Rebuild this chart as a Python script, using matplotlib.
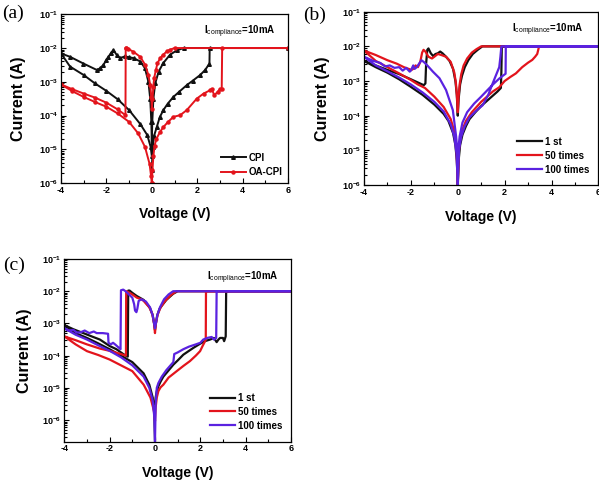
import numpy as np
import matplotlib.pyplot as plt
from matplotlib.ticker import FixedLocator, FuncFormatter, LogLocator, NullFormatter

plt.rcParams['font.family'] = ['Liberation Sans', 'DejaVu Sans']
plt.rcParams['mathtext.fontset'] = 'custom'
plt.rcParams['mathtext.rm'] = 'Liberation Sans'
plt.rcParams['mathtext.bf'] = 'Liberation Sans:bold'

BLACK = '#111111'
RED = '#e3141c'
BLUE = '#5a22e0'

# ---- data: voltage sweeps (V) and log10 of current (A) ----
# (a) CPI
a_cpi_v = [0, 0.04, 0.1, 0.22, 0.35, 0.51, 0.7, 0.95, 1.2, 1.54, 1.8, 2.13, 2.35, 2.54, 2.55, 6.0,
           1.4, 1.1, 0.8, 0.5, 0.3, 0.15, 0.07, 0.02, 0.0,
           -0.02, -0.07, -0.15, -0.3, -0.5, -0.8, -1.0, -1.2, -1.4, -1.55, -1.69, -1.8, -1.91, -2.01,
           -2.13, -2.28, -2.42, -3.01, -3.6, -4.0,
           -3.6, -3.0, -2.5, -2.0, -1.5, -1.0, -0.5, -0.2, -0.05, 0.0]
a_cpi_logi = [-5.6, -4.93, -4.6, -4.34, -4.05, -3.84, -3.65, -3.45, -3.3, -3.1, -2.97, -2.8, -2.65, -2.46, -2.0, -2.0,
              -2.0, -2.07, -2.2, -2.45, -2.7, -3.05, -3.5, -4.2, -4.8,
              -4.2, -3.5, -3.0, -2.6, -2.4, -2.3, -2.27, -2.25, -2.3, -2.2, -2.06, -2.15, -2.26, -2.36,
              -2.5, -2.6, -2.65, -2.46, -2.26, -2.16,
              -2.55, -2.8, -3.05, -3.27, -3.52, -3.84, -4.26, -4.58, -4.93, -5.2]
# (a) OA-CPI
a_oa_v = [0, 0.03, 0.07, 0.12, 0.2, 0.35, 0.5, 0.7, 0.95, 1.25, 1.54, 1.98, 2.28, 2.57, 2.65, 2.75, 2.9, 3.0, 3.08, 3.1, 6.0,
          1.0, 0.8, 0.66, 0.5, 0.37, 0.25, 0.18, 0.1, 0.07, 0.03, 0.0,
          -0.02, -0.07, -0.15, -0.29, -0.51, -0.81, -1.03, -1.13, -1.15, -1.16, -1.5, -2.0, -2.5, -3.0, -3.5, -4.0,
          -3.5, -3.0, -2.5, -2.0, -1.5, -1.0, -0.6, -0.3, -0.1, -0.03, 0.0]
a_oa_logi = [-6.0, -5.6, -5.2, -4.9, -4.7, -4.5, -4.35, -4.2, -4.04, -3.99, -3.84, -3.5, -3.35, -3.25, -3.22, -3.4, -3.3, -3.22, -3.2, -2.0, -2.0,
             -2.0, -2.05, -2.1, -2.2, -2.3, -2.45, -2.65, -2.9, -3.15, -3.5, -3.8,
             -3.45, -3.1, -2.8, -2.5, -2.26, -2.11, -2.03, -2.0, -2.0, -3.99, -3.82, -3.62, -3.47, -3.35, -3.22, -3.08,
             -3.28, -3.45, -3.6, -3.74, -3.94, -4.19, -4.53, -4.93, -5.43, -5.8, -6.0]

# (b) 1 st
b_1st_v = [0, 0.05, 0.1, 0.2, 0.35, 0.5, 0.75, 1.0, 1.25, 1.5, 1.7, 1.84, 1.86, 1.88, 6.0,
           1.05, 0.85, 0.64, 0.45, 0.3, 0.18, 0.1, 0.04, 0.0,
           -0.04, -0.1, -0.2, -0.35, -0.5, -0.65, -0.75, -0.85, -0.95, -1.05, -1.15, -1.25, -1.3, -1.35, -1.38, -1.45,
           -2.0, -2.5, -3.0, -3.5, -4.0,
           -3.5, -3.0, -2.5, -2.0, -1.5, -1.0, -0.6, -0.4, -0.2, -0.1, -0.04, 0.0]
b_1st_logi = [-6.0, -5.2, -4.85, -4.55, -4.3, -4.1, -3.9, -3.72, -3.57, -3.42, -3.3, -3.2, -2.75, -2.0, -2.0,
              -2.0, -2.1, -2.22, -2.4, -2.6, -2.85, -3.1, -3.5, -4.0,
              -3.4, -3.0, -2.65, -2.42, -2.3, -2.2, -2.15, -2.2, -2.22, -2.28, -2.2, -2.06, -2.1, -2.5, -3.07, -3.12,
              -2.95, -2.8, -2.68, -2.55, -2.42,
              -2.6, -2.76, -2.95, -3.17, -3.4, -3.68, -3.95, -4.15, -4.5, -4.85, -5.3, -6.0]
# (b) 50 times
b_50_v = [0, 0.05, 0.1, 0.2, 0.35, 0.6, 0.8, 1.0, 1.25, 1.5, 1.77, 2.0, 2.25, 2.48, 2.75, 3.0, 3.18, 3.3, 3.39, 3.47, 6.0,
          1.0, 0.8, 0.6, 0.4, 0.25, 0.15, 0.08, 0.03, 0.0,
          -0.03, -0.08, -0.15, -0.3, -0.5, -0.7, -0.85, -1.0, -1.1, -1.25, -1.38, -1.46, -1.52, -1.6, -1.7, -1.8, -1.9, -1.97,
          -2.3, -2.6, -3.0, -3.5, -4.0,
          -3.5, -3.0, -2.5, -2.0, -1.7, -1.4, -1.0, -0.6, -0.3, -0.15, -0.05, 0.0]
b_50_logi = [-6.0, -5.0, -4.7, -4.4, -4.15, -3.9, -3.75, -3.6, -3.45, -3.3, -3.18, -3.0, -2.88, -2.78, -2.6, -2.47, -2.39, -2.3, -2.22, -2.0, -2.0,
             -2.0, -2.08, -2.18, -2.35, -2.55, -2.8, -3.1, -3.5, -3.9,
             -3.5, -3.05, -2.75, -2.45, -2.3, -2.25, -2.22, -2.3, -2.35, -2.3, -2.15, -2.1, -2.18, -2.45, -2.6, -2.55, -2.65, -2.68,
             -2.6, -2.5, -2.4, -2.25, -2.12,
             -2.42, -2.6, -2.78, -2.97, -3.1, -3.2, -3.45, -3.75, -4.1, -4.45, -5.0, -6.0]
# (b) 100 times
b_100_v = [0, 0.05, 0.15, 0.3, 0.5, 0.8, 1.06, 1.3, 1.5, 1.65, 1.77, 1.82, 1.86, 6.0,
           2.05, 2.04, 1.9, 1.77, 1.5, 1.27, 1.0, 0.7, 0.4, 0.2, 0.08, 0.02, 0.0,
           -0.02, -0.07, -0.21, -0.5, -0.78, -1.06, -1.3, -1.45, -1.55, -1.65, -1.75, -1.84, -1.9, -2.0, -2.05,
           -2.2, -2.35, -2.5, -2.7, -2.9, -3.1, -3.3, -3.6, -4.0,
           -3.5, -3.0, -2.5, -2.0, -1.5, -1.0, -0.6, -0.3, -0.15, -0.05, 0.0]
b_100_logi = [-6.0, -5.0, -4.6, -4.3, -4.05, -3.85, -3.7, -3.4, -3.05, -2.8, -2.6, -2.3, -2.0, -2.0,
              -2.0, -2.79, -2.86, -2.93, -3.1, -3.26, -3.45, -3.65, -3.9, -4.2, -4.6, -5.0, -5.5,
              -5.0, -4.6, -3.84, -3.26, -2.92, -2.73, -2.55, -2.45, -2.4, -2.5, -2.6, -2.65, -2.55, -2.7, -2.73,
              -2.62, -2.7, -2.6, -2.62, -2.55, -2.58, -2.48, -2.42, -2.3,
              -2.55, -2.72, -2.9, -3.1, -3.33, -3.6, -3.88, -4.25, -4.6, -5.1, -6.0]

# (c) 1 st
c_1st_v = [0, 0.03, 0.08, 0.15, 0.25, 0.37, 0.55, 0.81, 1.0, 1.25, 1.5, 1.69, 1.99, 2.2, 2.43, 2.6, 2.72, 2.8, 2.87, 3.0, 3.05, 3.12, 3.14, 6.0,
           1.0, 0.8, 0.5, 0.3, 0.2, 0.1, 0.04, 0.0,
           -0.04, -0.1, -0.22, -0.5, -0.8, -1.0, -1.12, -1.18, -1.2,
           -1.4, -1.7, -2.0, -2.43, -2.8, -3.16, -3.6, -4.0,
           -3.5, -3.0, -2.5, -2.0, -1.5, -1.0, -0.5, -0.25, -0.1, -0.03, 0.0]
c_1st_logi = [-5.5, -5.3, -5.1, -4.95, -4.8, -4.65, -4.5, -4.28, -4.15, -3.97, -3.85, -3.76, -3.63, -3.55, -3.5, -3.45, -3.58, -3.5, -3.45, -3.45, -3.55, -3.4, -2.0, -2.0,
              -2.0, -2.08, -2.27, -2.45, -2.55, -2.75, -3.0, -3.2,
              -3.0, -2.75, -2.52, -2.27, -2.15, -2.05, -1.98, -1.98, -4.03,
              -3.95, -3.8, -3.7, -3.5, -3.4, -3.3, -3.18, -3.05,
              -3.3, -3.45, -3.62, -3.8, -4.0, -4.2, -4.55, -4.9, -5.3, -5.8, -6.6]
# (c) 50 times
c_50_v = [0, 0.03, 0.08, 0.15, 0.25, 0.37, 0.6, 0.96, 1.25, 1.54, 1.8, 1.99, 2.1, 2.21, 2.24, 2.25, 6.0,
          0.95, 0.7, 0.45, 0.25, 0.12, 0.04, 0.0,
          -0.04, -0.12, -0.25, -0.5, -0.6, -0.8, -1.0, -1.2, -1.27, -1.28,
          -1.5, -2.0, -2.43, -3.0, -3.5, -4.0,
          -3.5, -3.0, -2.5, -2.0, -1.5, -1.0, -0.5, -0.2, -0.05, 0.0]
c_50_logi = [-6.0, -5.6, -5.3, -5.1, -4.98, -4.9, -4.68, -4.48, -4.32, -4.17, -4.0, -3.86, -3.7, -3.55, -3.5, -2.0, -2.0,
             -2.0, -2.12, -2.3, -2.5, -2.72, -3.0, -3.3,
             -3.0, -2.7, -2.5, -2.3, -2.25, -2.2, -2.1, -2.02, -2.0, -4.0,
             -3.95, -3.85, -3.78, -3.65, -3.52, -3.4,
             -3.65, -3.86, -3.98, -4.12, -4.3, -4.48, -4.9, -5.3, -5.7, -6.0]
# (c) 100 times
c_100_v = [0, 0.03, 0.08, 0.15, 0.3, 0.5, 0.81, 0.85, 1.0, 1.25, 1.5, 1.8, 2.0, 2.13, 2.3, 2.5, 2.6, 2.7, 2.72, 6.0,
           0.8, 0.6, 0.4, 0.22, 0.1, 0.04, 0.0,
           -0.04, -0.1, -0.22, -0.4, -0.6, -0.72, -0.78, -0.82, -0.88, -0.92, -1.0, -1.15, -1.3, -1.4, -1.5, -1.52,
           -1.6, -1.76, -1.85, -1.95, -2.05, -2.07, -2.3, -2.57, -2.7, -2.9, -3.1, -3.3, -3.46, -3.6, -3.8, -4.0,
           -3.5, -3.0, -2.5, -2.0, -1.5, -1.0, -0.5, -0.25, -0.1, -0.03, 0.0]
c_100_logi = [-6.67, -5.5, -5.0, -4.85, -4.65, -4.45, -4.2, -3.95, -3.9, -3.8, -3.72, -3.65, -3.6, -3.5, -3.45, -3.42, -3.5, -3.45, -2.0, -2.0,
              -2.0, -2.1, -2.25, -2.5, -2.75, -3.0, -3.15,
              -3.0, -2.75, -2.5, -2.32, -2.25, -2.3, -2.55, -2.65, -2.6, -2.4, -2.2, -2.1, -2.0, -1.95, -1.97, -3.8,
              -3.75, -3.65, -3.6, -3.65, -3.6, -3.32, -3.3, -3.3, -3.25, -3.3, -3.22, -3.28, -3.28, -3.2, -3.22, -3.15,
              -3.35, -3.5, -3.68, -3.85, -4.05, -4.3, -4.65, -5.0, -5.4, -5.9, -6.67]

x_ticks = [-4, -2, 0, 2, 4, 6]
y_ticks = [1e-6, 1e-5, 1e-4, 1e-3, 1e-2, 1e-1]

W, H = 599, 495
fig = plt.figure(figsize=(5.99, 4.95), dpi=100)


def make_axes(left, top, right, bottom, ymin, ylab_off):
    ax = fig.add_axes([left / W, 1 - bottom / H, (right - left) / W, (bottom - top) / H])
    ax.set_yscale('log')
    ax.set_xlim(-4, 6)
    ax.set_ylim(ymin, 1e-1)
    ax.xaxis.set_major_locator(FixedLocator(x_ticks))
    ax.xaxis.set_minor_locator(FixedLocator([-3, -1, 1, 3, 5]))
    ax.yaxis.set_major_locator(FixedLocator(y_ticks))
    ax.yaxis.set_minor_locator(LogLocator(base=10, subs=np.arange(2, 10), numticks=20))
    ax.yaxis.set_minor_formatter(NullFormatter())
    ax.yaxis.set_major_formatter(FuncFormatter(
        lambda v, p: r'$\mathbf{10^{%d}}$' % int(round(np.log10(v)))))
    ax.xaxis.set_major_formatter(FuncFormatter(lambda v, p: '%d' % v))
    ax.tick_params(which='both', direction='in', top=False, right=False,
                   labelsize=6.5, width=0.8, pad=2)
    ax.tick_params(which='major', length=3.5)
    ax.tick_params(which='minor', length=2)
    for lab in ax.get_xticklabels():
        lab.set_fontweight('bold')
    for s in ax.spines.values():
        s.set_linewidth(0.9)
    ax.set_xlabel('Voltage (V)', fontsize=10, fontweight='bold')
    ax.set_ylabel('Current (A)', fontsize=11.5, fontweight='bold')
    w = right - left
    h = bottom - top
    ax.xaxis.set_label_coords(0.5, -24.5 / h)
    ax.yaxis.set_label_coords(-ylab_off / w, 0.5)
    ax.text(0.63, 0.895, r'I$_{\rm compliance}$=10mA', transform=ax.transAxes,
            fontsize=7, fontweight='bold', ha='left', va='center')
    return ax


def trace(ax, v, logi, color, label, **kw):
    ax.plot(v, 10.0 ** np.array(logi), color=color, label=label, **kw)


# (a)
ax_a = make_axes(61, 14.3, 288, 183, 1e-6, 34.5)
trace(ax_a, a_cpi_v, a_cpi_logi, BLACK, 'CPI', lw=1.4, marker='^', ms=2.6)
trace(ax_a, a_oa_v, a_oa_logi, RED, 'OA-CPI', lw=1.4, marker='o', ms=2.2)
ax_a.legend(loc='lower right', bbox_to_anchor=(0.975, 0.035), frameon=False,
            prop={'weight': 'bold', 'size': 7}, handlelength=2.5,
            handletextpad=0.3, labelspacing=0.45, borderpad=0, borderaxespad=0)

# (b)
ax_b = make_axes(364, 11.7, 598.4, 185, 1e-6, 33.5)
trace(ax_b, b_1st_v, b_1st_logi, BLACK, '1 st', lw=1.6)
trace(ax_b, b_50_v, b_50_logi, RED, '50 times', lw=1.6)
trace(ax_b, b_100_v, b_100_logi, BLUE, '100 times', lw=1.6)
ax_b.legend(loc='lower right', bbox_to_anchor=(0.96, 0.06), frameon=False,
            prop={'weight': 'bold', 'size': 7}, handlelength=2.5,
            handletextpad=0.3, labelspacing=0.4, borderpad=0, borderaxespad=0)

# (c)
ax_c = make_axes(64.3, 259, 291, 441.7, 10 ** -6.67, 32)
trace(ax_c, c_1st_v, c_1st_logi, BLACK, '1 st', lw=1.6)
trace(ax_c, c_50_v, c_50_logi, RED, '50 times', lw=1.6)
trace(ax_c, c_100_v, c_100_logi, BLUE, '100 times', lw=1.6)
ax_c.legend(loc='lower right', bbox_to_anchor=(0.96, 0.06), frameon=False,
            prop={'weight': 'bold', 'size': 7}, handlelength=2.5,
            handletextpad=0.3, labelspacing=0.4, borderpad=0, borderaxespad=0)

# panel letters
for x, y, s in [(2, 13, '(a)'), (303, 15, '(b)'), (3, 265, '(c)')]:
    fig.text(x / W, 1 - y / H, s, fontsize=14, family='Liberation Serif',
             ha='left', va='center')

fig.savefig('out.png', dpi=100)
